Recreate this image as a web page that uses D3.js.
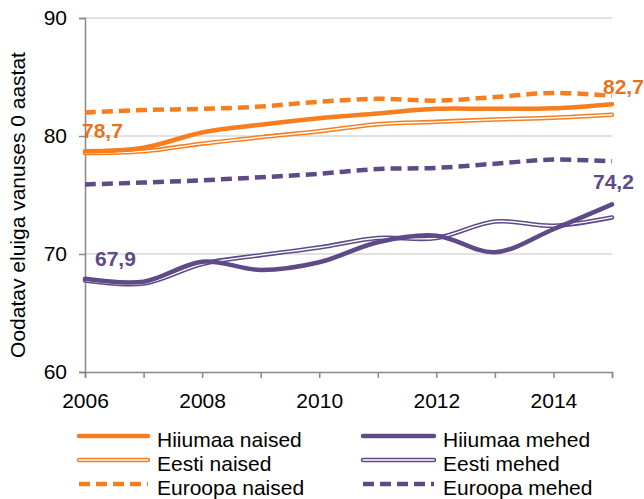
<!DOCTYPE html>
<html>
<head>
<meta charset="utf-8">
<script src="https://cdn.jsdelivr.net/npm/d3@7"></script>
<style>
  html, body { margin: 0; padding: 0; background: #fff; }
  svg { display: block; font-family: "Liberation Sans", Arial, sans-serif; }
</style>
</head>
<body>
<svg id="chart" width="644" height="499"></svg>
<script>
const years = [2006, 2007, 2008, 2009, 2010, 2011, 2012, 2013, 2014, 2015];
const xTickLabels = [2006, 2008, 2010, 2012, 2014];
const yTicks = [60, 70, 80, 90];

const hiiumaaNaised = [78.7, 79.0, 80.3, 80.95, 81.5, 81.9, 82.3, 82.3, 82.35, 82.7];
const eestiNaised   = [78.55, 78.7, 79.35, 79.9, 80.4, 81.0, 81.2, 81.4, 81.55, 81.8];
const euroopaNaised = [82.0, 82.2, 82.3, 82.5, 82.9, 83.15, 83.0, 83.3, 83.65, 83.4];
const hiiumaaMehed  = [67.9, 67.65, 69.35, 68.65, 69.3, 71.0, 71.55, 70.15, 72.1, 74.2];
const eestiMehed    = [67.75, 67.5, 69.15, 69.9, 70.55, 71.35, 71.35, 72.75, 72.4, 73.1];
const euroopaMehed  = [75.9, 76.05, 76.25, 76.5, 76.8, 77.2, 77.3, 77.65, 78.0, 77.85];

const seriesNames = ["Hiiumaa naised", "Eesti naised", "Euroopa naised",
                     "Hiiumaa mehed", "Eesti mehed", "Euroopa mehed"];

const ORANGE = "#F67E1E";
const ORANGE_TXT = "#E8731C";
const PURPLE = "#5E4A87";

const series = [
  { name: seriesNames[0], values: hiiumaaNaised, color: ORANGE, style: "solid" },
  { name: seriesNames[1], values: eestiNaised,   color: ORANGE, style: "double" },
  { name: seriesNames[2], values: euroopaNaised, color: ORANGE, style: "dash" },
  { name: seriesNames[3], values: hiiumaaMehed,  color: PURPLE, style: "solid" },
  { name: seriesNames[4], values: eestiMehed,    color: PURPLE, style: "double" },
  { name: seriesNames[5], values: euroopaMehed,  color: PURPLE, style: "dash" }
];

const svg = d3.select("#chart");
const mLeft = 85, mRight = 612, mTop = 18, mBottom = 372;

const x = d3.scaleLinear().domain([2006, 2015]).range([mLeft, mRight]);
const y = d3.scaleLinear().domain([60, 90]).range([mBottom, mTop]);

const FS = 21;
const AXIS = "#888888";

// gridlines
svg.append("g").selectAll("line")
  .data(yTicks.filter(t => t > 60))
  .join("line")
  .attr("x1", mLeft).attr("x2", mRight)
  .attr("y1", d => y(d)).attr("y2", d => y(d))
  .attr("stroke", "#d9d9d9").attr("stroke-width", 1.5);

// y axis
const yAxis = d3.axisLeft(y).tickValues(yTicks).tickSize(6).tickPadding(12)
  .tickFormat(d3.format("d"));
const gy = svg.append("g").attr("transform", `translate(${mLeft},0)`).call(yAxis);
gy.select(".domain").attr("stroke", AXIS).attr("stroke-width", 1.5);
gy.selectAll(".tick line").attr("stroke", AXIS).attr("stroke-width", 1.5);
gy.selectAll(".tick text").attr("font-size", FS).attr("fill", "#000")
  .attr("font-family", "Liberation Sans, Arial, sans-serif");

// x axis
const xAxis = d3.axisBottom(x).tickValues(years).tickSize(6).tickPadding(15)
  .tickFormat(d => xTickLabels.includes(d) ? String(d) : "");
const gx = svg.append("g").attr("transform", `translate(0,${mBottom})`).call(xAxis);
gx.select(".domain").attr("stroke", AXIS).attr("stroke-width", 1.5);
gx.selectAll(".tick line").attr("stroke", AXIS).attr("stroke-width", 1.5);
gx.selectAll(".tick text").attr("font-size", FS).attr("fill", "#000")
  .attr("font-family", "Liberation Sans, Arial, sans-serif");

// y title
svg.append("text")
  .attr("transform", `translate(25,${(mTop + mBottom) / 2 + 10}) rotate(-90)`)
  .attr("text-anchor", "middle")
  .attr("font-size", FS)
  .attr("fill", "#000")
  .text("Oodatav eluiga vanuses 0 aastat");

const line = d3.line()
  .x((d, i) => x(years[i]))
  .y(d => y(d))
  .curve(d3.curveCardinal.tension(0));

function drawStyled(g, s, pathD) {
  if (s.style === "solid") {
    g.append("path").attr("d", pathD).attr("fill", "none")
      .attr("stroke", s.color).attr("stroke-width", 4.5).attr("stroke-linecap", "round");
  } else if (s.style === "double") {
    g.append("path").attr("d", pathD).attr("fill", "none")
      .attr("stroke", s.color).attr("stroke-width", 4.5).attr("stroke-linecap", "round");
    g.append("path").attr("d", pathD).attr("fill", "none")
      .attr("stroke", "#fff").attr("stroke-width", 1.4).attr("stroke-linecap", "round");
  } else {
    g.append("path").attr("d", pathD).attr("fill", "none")
      .attr("stroke", s.color).attr("stroke-width", 4.5)
      .attr("stroke-dasharray", "11,6");
  }
}

// draw order: Eesti, Euroopa, Hiiumaa
const order = [1, 2, 0, 4, 5, 3];
const gLines = svg.append("g");
order.forEach(i => {
  const s = series[i];
  drawStyled(gLines.append("g"), s, line(s.values));
});

// data labels
const labels = [
  { text: "78,7", xv: 2006, yv: hiiumaaNaised[0], dx: -3, dy: -13, color: ORANGE_TXT },
  { text: "82,7", xv: 2015, yv: hiiumaaNaised[9], dx: -9, dy: -10, color: ORANGE_TXT },
  { text: "74,2", xv: 2015, yv: hiiumaaMehed[9], dx: -19, dy: -15, color: PURPLE },
  { text: "67,9", xv: 2006, yv: hiiumaaMehed[0], dx: 10, dy: -13, color: PURPLE }
];
svg.append("g").selectAll("text")
  .data(labels)
  .join("text")
  .attr("x", d => x(d.xv) + d.dx)
  .attr("y", d => y(d.yv) + d.dy)
  .attr("text-anchor", "start")
  .attr("font-size", FS)
  .attr("font-weight", "bold")
  .attr("fill", d => d.color)
  .text(d => d.text);

// legend
const legendCols = [{ x1: 79, x2: 148, tx: 157 }, { x1: 363, x2: 434, tx: 443 }];
const legendRows = [436, 460, 484];
const lg = svg.append("g");
series.forEach((s, i) => {
  const col = legendCols[Math.floor(i / 3)];
  const ry = legendRows[i % 3];
  const g = lg.append("g");
  const pathD = d3.line()([[col.x1, ry], [col.x2, ry]]);
  drawStyled(g, s, pathD);
  g.append("text")
    .attr("x", col.tx).attr("y", ry + 11)
    .attr("font-size", FS)
    .attr("fill", "#000")
    .text(s.name);
});
</script>
</body>
</html>
